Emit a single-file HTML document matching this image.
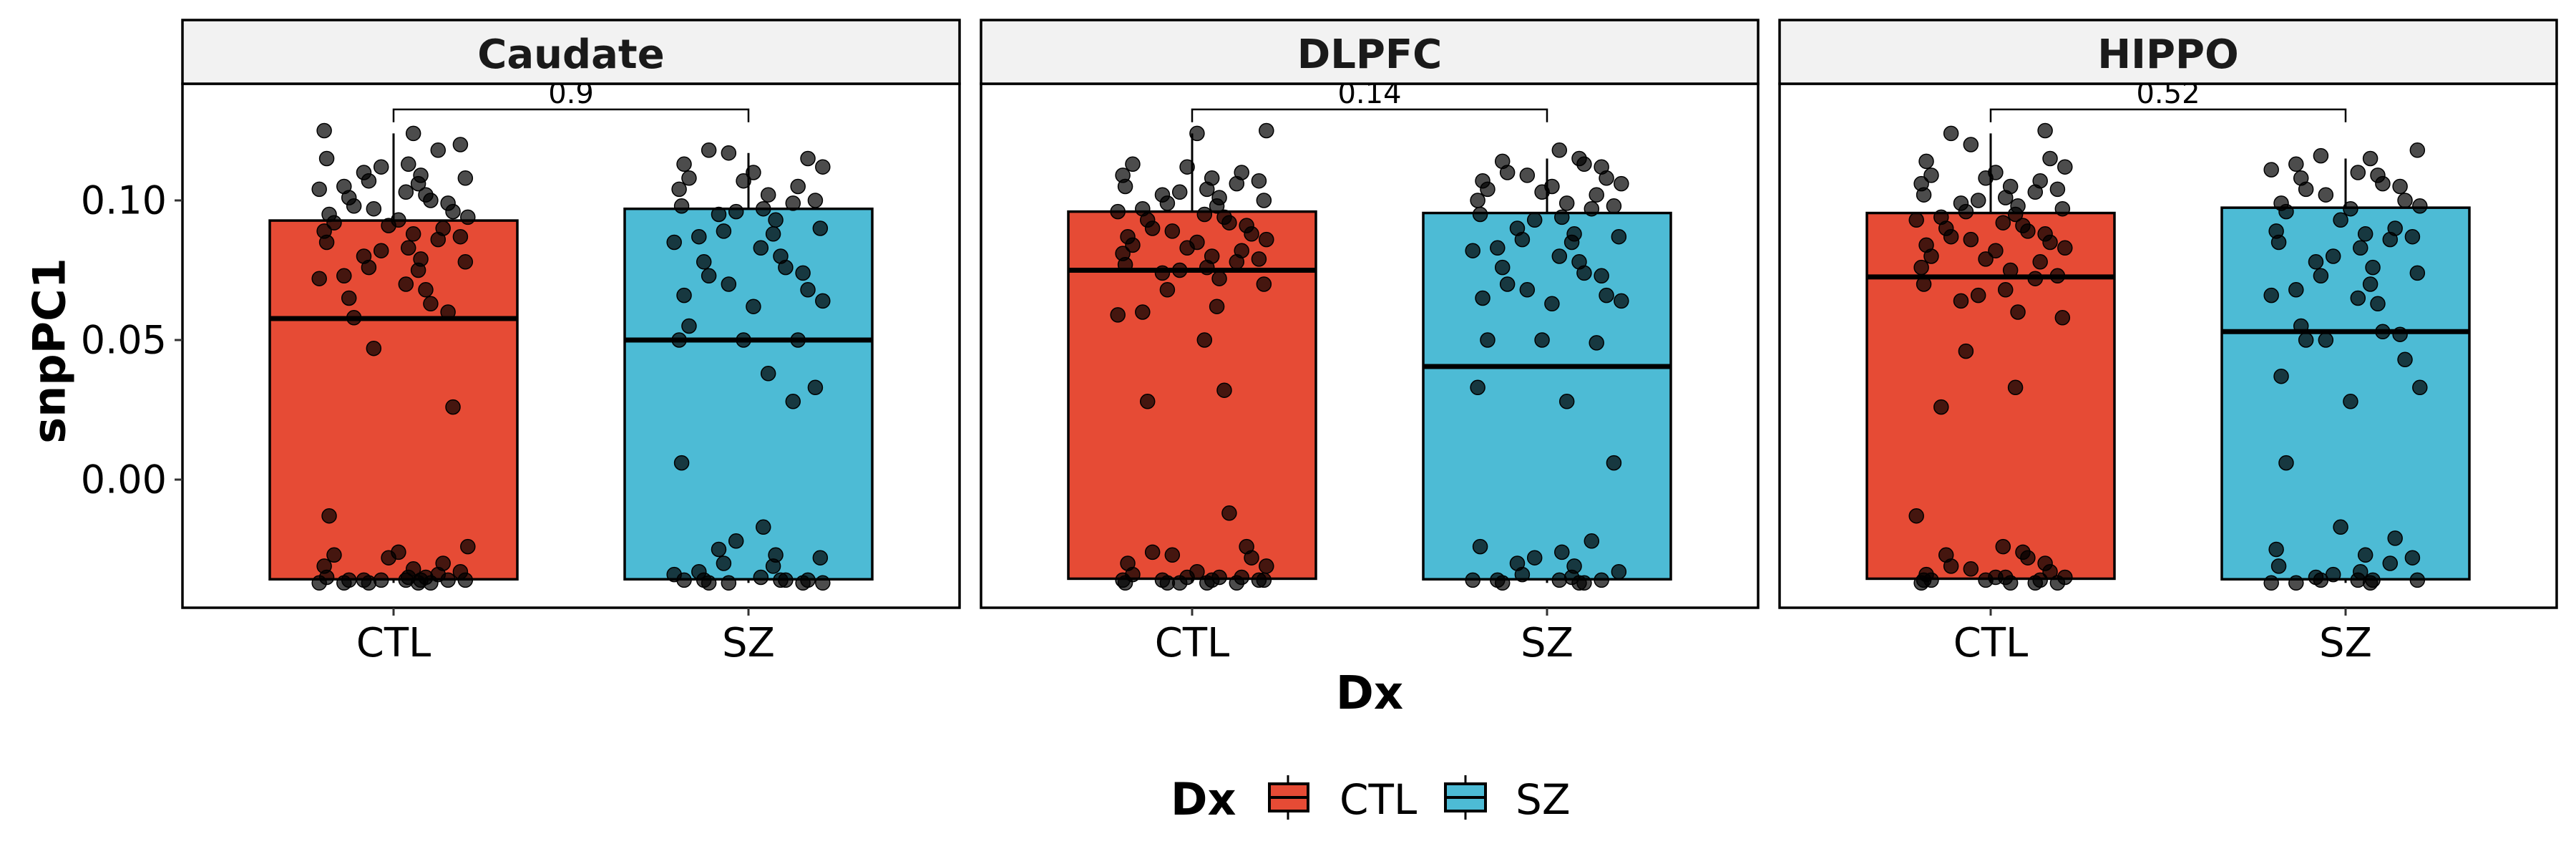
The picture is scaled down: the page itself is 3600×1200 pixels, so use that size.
<!DOCTYPE html>
<html><head><meta charset="utf-8"><style>
html,body{margin:0;padding:0;background:#fff;}
svg{display:block;font-family:"DejaVu Sans","Liberation Sans",sans-serif;}
</style></head><body>
<svg id="chart" width="3600" height="1200" viewBox="0 0 3600 1200" xmlns="http://www.w3.org/2000/svg">
<g id="panels"></g>
<g id="yaxis"></g>
<text x="69" y="490" transform="rotate(-90 69 490)" text-anchor="middle" dominant-baseline="central" font-size="62" font-weight="bold">snpPC1</text>
<text x="1914" y="990" text-anchor="middle" font-size="64" font-weight="bold">Dx</text>
<g>
<text x="1636" y="1138" font-size="62" font-weight="bold">Dx</text>
<g>
<line x1="1800" y1="1083" x2="1800" y2="1145" stroke="#000" stroke-width="3"/>
<rect x="1774" y="1095" width="54" height="38" fill="#E64B35" stroke="#000" stroke-width="4"/>
<line x1="1774" y1="1114" x2="1828" y2="1114" stroke="#000" stroke-width="4"/>
<text x="1872" y="1137" font-size="58">CTL</text></g>
<g>
<line x1="2048" y1="1083" x2="2048" y2="1145" stroke="#000" stroke-width="3"/>
<rect x="2020" y="1095" width="56" height="38" fill="#4DBBD5" stroke="#000" stroke-width="4"/>
<line x1="2020" y1="1114" x2="2076" y2="1114" stroke="#000" stroke-width="4"/>
<text x="2118" y="1137" font-size="58">SZ</text></g>
</g>
</svg>
<script>
const regions = ["Caudate","DLPFC","HIPPO"];
const groups = ["CTL","SZ"];
const pvalues = ["0.9","0.14","0.52"];
const yTicks = [0.00,0.05,0.10];
const yTickLabels = ["0.00","0.05","0.10"];
const statsCaudate = [[-0.037,-0.0357,0.0577,0.0928,0.124],[-0.037,-0.0357,0.050,0.097,0.117]];
const statsDLPFC = [[-0.037,-0.0355,0.075,0.096,0.124],[-0.037,-0.0357,0.0405,0.0955,0.115]];
const statsHIPPO = [[-0.037,-0.0355,0.0726,0.0955,0.124],[-0.037,-0.0357,0.053,0.0974,0.115]];
const pointsCaudateCTL = [0.125,0.124,0.12,0.118,0.115,0.113,0.112,0.11,0.109,0.108,0.107,0.106,0.105,0.104,0.103,0.102,0.101,0.1,0.099,0.098,0.097,0.096,0.095,0.094,0.093,0.092,0.091,0.09,0.089,0.088,0.087,0.086,0.085,0.083,0.082,0.08,0.079,0.078,0.076,0.075,0.073,0.072,0.07,0.068,0.065,0.063,0.06,0.058,0.047,0.026,-0.013,-0.024,-0.026,-0.027,-0.028,-0.03,-0.031,-0.032,-0.033,-0.034,-0.035,-0.035,-0.036,-0.036,-0.036,-0.036,-0.037,-0.037,-0.037,-0.037,-0.036,-0.035,-0.036,-0.037,-0.036];
const pointsCaudateSZ = [0.118,0.117,0.115,0.113,0.112,0.11,0.108,0.107,0.105,0.104,0.102,0.1,0.099,0.098,0.097,0.096,0.095,0.093,0.09,0.089,0.088,0.087,0.085,0.083,0.08,0.078,0.076,0.074,0.073,0.07,0.068,0.066,0.064,0.062,0.055,0.05,0.05,0.05,0.038,0.033,0.028,0.006,-0.017,-0.022,-0.025,-0.027,-0.028,-0.03,-0.031,-0.033,-0.034,-0.035,-0.036,-0.036,-0.036,-0.037,-0.037,-0.037,-0.036,-0.036,-0.037];
const pointsDLPFCCTL = [0.125,0.124,0.113,0.112,0.11,0.109,0.108,0.107,0.106,0.105,0.104,0.103,0.102,0.101,0.1,0.099,0.098,0.097,0.096,0.095,0.094,0.093,0.092,0.091,0.09,0.089,0.088,0.087,0.086,0.085,0.084,0.083,0.082,0.081,0.08,0.079,0.078,0.077,0.076,0.075,0.074,0.072,0.07,0.068,0.062,0.06,0.059,0.05,0.032,0.028,-0.012,-0.024,-0.026,-0.027,-0.028,-0.03,-0.031,-0.033,-0.034,-0.035,-0.035,-0.036,-0.036,-0.036,-0.037,-0.037,-0.037,-0.037,-0.036,-0.035,-0.036,-0.037];
const pointsDLPFCSZ = [0.118,0.115,0.114,0.113,0.112,0.11,0.109,0.108,0.107,0.106,0.105,0.104,0.103,0.102,0.1,0.099,0.098,0.097,0.095,0.094,0.093,0.09,0.088,0.087,0.086,0.085,0.083,0.082,0.08,0.078,0.076,0.074,0.073,0.07,0.068,0.066,0.065,0.064,0.063,0.05,0.05,0.049,0.033,0.028,0.006,-0.022,-0.024,-0.026,-0.028,-0.03,-0.031,-0.033,-0.034,-0.035,-0.036,-0.036,-0.036,-0.037,-0.037,-0.037,-0.036];
const pointsHIPPOCTL = [0.125,0.124,0.12,0.115,0.114,0.112,0.11,0.109,0.108,0.107,0.106,0.105,0.104,0.103,0.102,0.101,0.1,0.099,0.098,0.097,0.096,0.095,0.094,0.093,0.092,0.091,0.09,0.089,0.088,0.087,0.086,0.085,0.084,0.083,0.082,0.08,0.079,0.078,0.076,0.075,0.073,0.072,0.07,0.068,0.066,0.064,0.06,0.058,0.046,0.033,0.026,-0.013,-0.024,-0.026,-0.027,-0.028,-0.03,-0.031,-0.032,-0.033,-0.034,-0.035,-0.035,-0.036,-0.036,-0.036,-0.037,-0.037,-0.037,-0.037,-0.036,-0.035];
const pointsHIPPOSZ = [0.118,0.116,0.115,0.113,0.111,0.11,0.109,0.108,0.106,0.105,0.104,0.102,0.1,0.099,0.098,0.097,0.096,0.093,0.09,0.089,0.088,0.087,0.086,0.085,0.083,0.08,0.078,0.076,0.074,0.073,0.07,0.068,0.066,0.065,0.063,0.055,0.053,0.052,0.05,0.05,0.043,0.037,0.033,0.028,0.006,-0.017,-0.021,-0.025,-0.027,-0.028,-0.03,-0.031,-0.033,-0.034,-0.035,-0.036,-0.036,-0.036,-0.037,-0.037,-0.037,-0.036];
const jitterFractions = [-0.28,0.15,-0.05,0.3,-0.2,0.08,0.22,-0.12,0.02,-0.3,0.27,-0.16,0.11,-0.24,0.05,0.18,-0.08,0.29,-0.02,0.13,-0.27,0.24,-0.1,0.2,-0.18,0.06,-0.26,0.1];

const statsAll = [statsCaudate, statsDLPFC, statsHIPPO];
const pointsAll = [[pointsCaudateCTL,pointsCaudateSZ],[pointsDLPFCCTL,pointsDLPFCSZ],[pointsHIPPOCTL,pointsHIPPOSZ]];
const colors = ["#E64B35","#4DBBD5"];
const NS = "http://www.w3.org/2000/svg";
const panelLeft = [255,1371,2487], panelW = 1086, stripTop = 28, stripBot = 117, plotBot = 849;
const yScale = v => 670 - v*3900;
const xScale = (p,g) => panelLeft[p] + 295 + g*496;
const boxW = 346;
function mk(tag, attrs, parent){const e=document.createElementNS(NS,tag);for(const k in attrs)e.setAttribute(k,attrs[k]);parent.appendChild(e);return e;}
const panelsG = document.getElementById('panels');
regions.forEach((r,p)=>{
  const g = mk('g',{},panelsG);
  
  
  const L = panelLeft[p];
  const st = document.createElementNS(NS,'text');
  for (const [k,v] of Object.entries({x:L+panelW/2,y:95,'text-anchor':'middle','font-size':56,'font-weight':'bold',fill:'#1a1a1a'})) st.setAttribute(k,v);
  st.textContent = r;
  
  
  const bg = mk('rect',{x:L,y:stripBot,width:panelW,height:plotBot-stripBot,fill:'#fff',stroke:'#000','stroke-width':3.5},g);
  
  
  groups.forEach((grp,gi)=>{
    const s = statsAll[p][gi], cx = xScale(p,gi);
    const bx = mk('g',{},g);
    
    
    mk('line',{x1:cx,x2:cx,y1:yScale(s[4]),y2:yScale(s[3]),stroke:'#000','stroke-width':3},bx);
    mk('line',{x1:cx,x2:cx,y1:yScale(s[1]),y2:yScale(s[0]),stroke:'#000','stroke-width':3},bx);
    mk('rect',{x:cx-boxW/2,y:yScale(s[3]),width:boxW,height:yScale(s[1])-yScale(s[3]),fill:colors[gi],stroke:'#000','stroke-width':3.5},bx);
    mk('line',{x1:cx-boxW/2,x2:cx+boxW/2,y1:yScale(s[2]),y2:yScale(s[2]),stroke:'#000','stroke-width':7},bx);
    const pts = pointsAll[p][gi];
    pts.forEach((v,i)=>{
      const j = jitterFractions[(i*5+p*3+gi*11)%jitterFractions.length];
      const c = mk('circle',{cx:cx+j*boxW,cy:yScale(v),r:10,fill:'rgba(0,0,0,0.7)',stroke:'#000','stroke-width':1.5},g);
      
      
    });
    const tk = mk('line',{x1:cx,x2:cx,y1:plotBot,y2:plotBot+11,stroke:'#333','stroke-width':3},g);
    
    
    const tl = mk('text',{x:cx,y:917,'text-anchor':'middle','font-size':56},g);
    tl.textContent = grp;
    
    
  });
  const x1 = xScale(p,0), x2 = xScale(p,1), yb = yScale(0.1326), yt = yScale(0.128);
  const br = mk('path',{d:`M${x1},${yt}V${yb}H${x2}V${yt}`,fill:'none',stroke:'#000','stroke-width':2.5},g);
  
  
  const pt = mk('text',{x:(x1+x2)/2,y:yb-9,'text-anchor':'middle','font-size':40},g);
  pt.textContent = pvalues[p];
  
  
  const strip = mk('rect',{x:L,y:stripTop,width:panelW,height:stripBot-stripTop,fill:'#f2f2f2',stroke:'#000','stroke-width':3.5},g);
  
  
  g.appendChild(st);
});
const ya = document.getElementById('yaxis');
yTicks.forEach((v,i)=>{
  const t = mk('line',{x1:244,x2:255,y1:yScale(v),y2:yScale(v),stroke:'#333','stroke-width':3},ya);
  
  
  const l = mk('text',{x:233,y:yScale(v),'text-anchor':'end','dominant-baseline':'central','font-size':54},ya);
  l.textContent = yTickLabels[i];
  
  
});
</script>
</body></html>
